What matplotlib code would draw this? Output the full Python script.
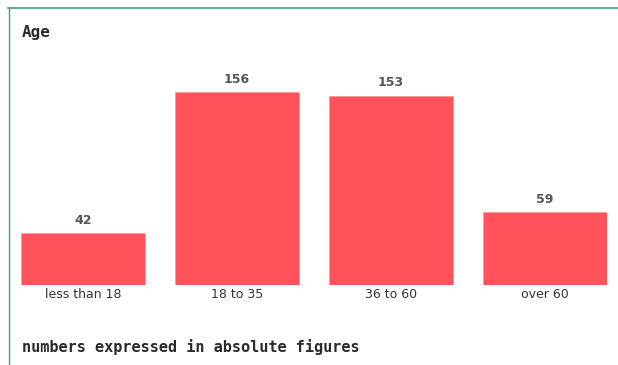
import matplotlib
matplotlib.use("Agg")
from matplotlib import pyplot as plt
from matplotlib.lines import Line2D

categories = ["less than 18", "18 to 35", "36 to 60", "over 60"]
counts = [42, 156, 153, 59]

W, H = 618, 365
fig = plt.figure(figsize=(W / 100, H / 100), dpi=100)
fig.patch.set_facecolor("white")

# axes area in pixels: left 21, right 607, baseline at 285
ax = fig.add_axes([21 / W, 80 / H, 586 / W, 225 / H])
bw = 0.805
x = list(range(len(categories)))
ax.bar(x, counts, width=bw, color="#ff525a", edgecolor="#ff9aa0", linewidth=0.6)
ax.set_xlim(-bw / 2, len(categories) - 1 + bw / 2)
ax.set_ylim(0, 225 / 1.237)

for xi, v in zip(x, counts):
    ax.annotate(str(v), (xi, v), xytext=(0, 4.5), textcoords="offset points",
                ha="center", va="bottom", fontsize=9, fontweight="bold",
                color="#555555")

ax.set_xticks(x)
ax.set_xticklabels(categories, fontsize=9, color="#333333")
ax.tick_params(axis="x", length=0, pad=2.5)
ax.set_yticks([])
for s in ax.spines.values():
    s.set_visible(False)

# title and footnote
fig.text(22 / W, 1 - 33 / H, "Age", fontsize=11.5, family="DejaVu Sans Mono",
         fontweight="bold", color="#2a2a2a", va="center", ha="left")
fig.text(22 / W, 1 - 347 / H, "numbers expressed in absolute figures",
         fontsize=11, family="DejaVu Sans Mono", fontweight="bold",
         color="#2a2a2a", va="center", ha="left")

# frame lines on top and left
green = "#3f9f82"
fig.add_artist(Line2D([8 / W, 1], [1 - 7.5 / H, 1 - 7.5 / H], color=green, lw=1.2))
fig.add_artist(Line2D([8.5 / W, 8.5 / W], [0, 1 - 7.5 / H], color=green, lw=1.0))

fig.savefig("out.png", dpi=100)
